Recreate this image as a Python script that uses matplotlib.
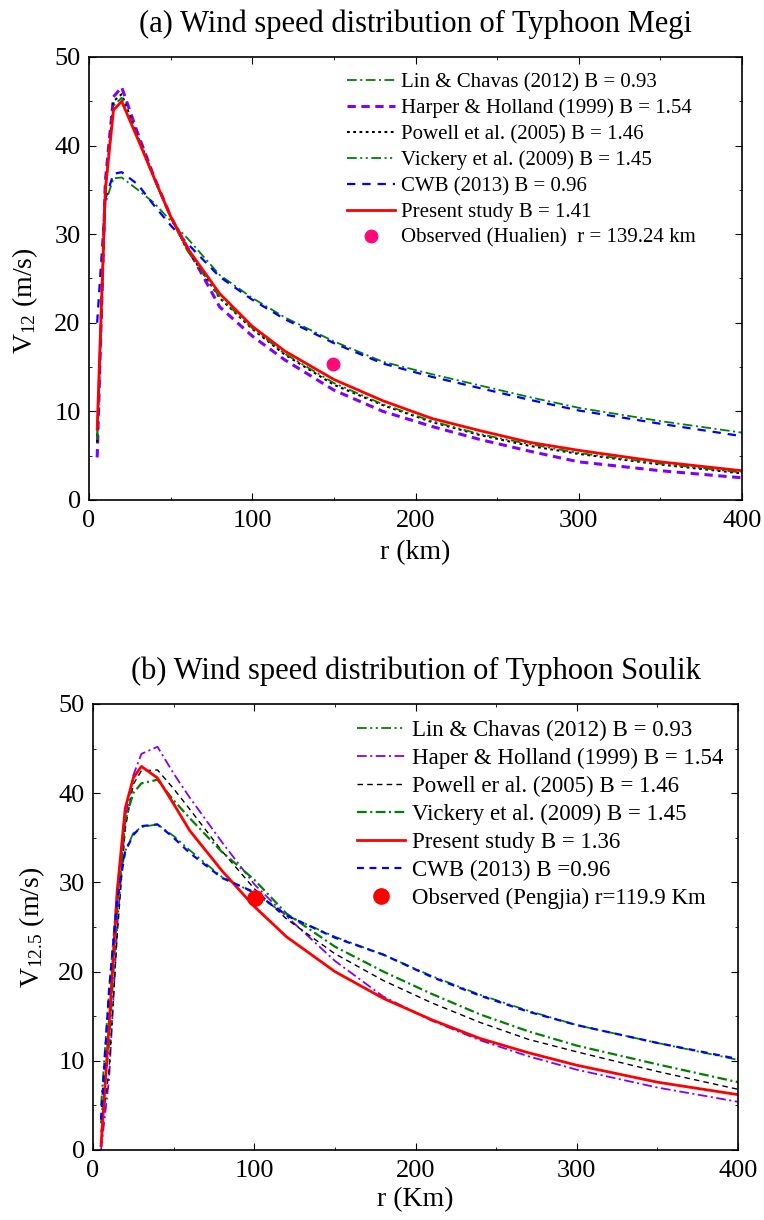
import numpy as np
import matplotlib
matplotlib.use("Agg")
import matplotlib.pyplot as plt
from matplotlib.ticker import MultipleLocator


# ---- panel (a): Typhoon Megi ----
R_A = [5, 10, 15, 20, 30, 40, 50, 60, 80, 100, 120, 150, 180, 210, 240, 270, 300, 350, 400]
LIN_A = [7.0, 33.5, 36.3, 36.4, 35.0, 33.5, 31.5, 29.6, 25.4, 22.8, 20.6, 17.9, 15.6, 14.2, 12.9, 11.6, 10.4, 8.9, 7.6]
HARPER_A = [4.8, 36.0, 45.5, 46.6, 41.3, 36.4, 32.0, 28.6, 21.8, 18.5, 15.8, 12.4, 10.0, 8.3, 6.8, 5.5, 4.3, 3.3, 2.5]
POWELL_A = [6.5, 35.0, 45.0, 45.8, 41.0, 36.3, 32.0, 28.3, 22.8, 19.3, 16.4, 13.0, 10.7, 8.8, 7.3, 6.1, 5.2, 4.0, 3.0]
VICKERY_A = [6.8, 34.5, 44.5, 45.4, 40.8, 36.2, 31.9, 28.2, 22.9, 19.4, 16.5, 13.2, 10.8, 8.9, 7.4, 6.3, 5.3, 4.1, 3.1]
CWB_A = [20.0, 34.0, 36.8, 37.0, 35.6, 33.2, 31.0, 29.0, 25.2, 22.6, 20.4, 17.7, 15.4, 13.9, 12.6, 11.3, 10.1, 8.6, 7.2]
PRESENT_A = [8.0, 35.0, 44.0, 45.0, 40.7, 36.3, 32.0, 28.5, 23.3, 19.6, 16.8, 13.6, 11.2, 9.2, 7.8, 6.5, 5.6, 4.3, 3.3]
OBS_A = (149.5, 15.3)

# ---- panel (b): Typhoon Soulik ----
R_B = [5, 10, 15, 20, 25, 30, 40, 50, 60, 80, 100, 120, 150, 180, 210, 240, 270, 300, 350, 400]
LIN_B = [5.0, 18.0, 29.0, 33.5, 35.5, 36.2, 36.5, 35.2, 33.6, 30.6, 28.8, 26.3, 23.9, 21.9, 19.5, 17.4, 15.6, 14.0, 12.0, 10.1]
HARPER_B = [0.0, 8.0, 25.0, 37.0, 42.0, 44.4, 45.2, 42.2, 39.5, 34.5, 29.8, 26.2, 21.2, 17.2, 14.5, 12.3, 10.5, 9.0, 7.0, 5.4]
POWELL_B = [2.0, 9.0, 24.0, 36.0, 41.0, 42.5, 42.6, 40.5, 38.2, 33.5, 29.3, 25.9, 22.0, 19.0, 16.5, 14.3, 12.4, 11.0, 8.8, 6.8]
VICKERY_B = [3.0, 12.0, 27.0, 37.0, 40.0, 41.1, 41.5, 39.2, 37.2, 33.4, 30.3, 26.5, 22.8, 20.0, 17.5, 15.2, 13.3, 11.7, 9.6, 7.6]
CWB_B = [3.4, 18.0, 28.0, 33.5, 35.3, 36.3, 36.5, 35.0, 33.3, 30.5, 28.9, 26.3, 23.8, 21.9, 19.4, 17.3, 15.5, 14.0, 12.0, 10.2]
PRESENT_B = [0.5, 14.0, 29.0, 38.3, 41.7, 43.0, 41.7, 38.8, 35.8, 31.3, 27.3, 23.9, 20.0, 17.0, 14.6, 12.5, 10.9, 9.5, 7.6, 6.2]
OBS_B = (100.5, 28.3)

GREEN = "#008000"
PURPLE = "#8000ff"
BLUE = "#0000ff"
RED = "#ff0000"


def configure_matplotlib():
    plt.rcParams.update({
        "font.family": "serif",
        "font.serif": ["Liberation Serif", "DejaVu Serif"],
        "mathtext.fontset": "custom",
        "mathtext.rm": "Liberation Serif",
        "mathtext.it": "Liberation Serif:italic",
        "axes.linewidth": 1.2,
        "xtick.direction": "in",
        "ytick.direction": "in",
        "xtick.top": True,
        "ytick.right": True,
        "xtick.major.size": 5,
        "ytick.major.size": 5,
        "xtick.minor.size": 2.5,
        "ytick.minor.size": 2.5,
        "xtick.labelsize": 19,
        "ytick.labelsize": 19,
        "lines.scale_dashes": False,
    })


def style_axes(ax):
    ax.set_xlim(0, 400)
    ax.set_ylim(0, 50)
    ax.xaxis.set_major_locator(MultipleLocator(100))
    ax.xaxis.set_minor_locator(MultipleLocator(50))
    ax.yaxis.set_major_locator(MultipleLocator(10))
    ax.yaxis.set_minor_locator(MultipleLocator(5))
    ax.tick_params(which="both", top=True, right=True)
    ax.tick_params(axis="x", pad=7)
    ax.tick_params(axis="y", pad=6)


def plot_megi(ax):
    ax.plot(R_A, LIN_A, color=GREEN, lw=1.3, dashes=(7, 2.5, 1.5, 2.5),
            label="Lin & Chavas (2012) B = 0.93")
    ax.plot(R_A, HARPER_A, color=PURPLE, lw=2.2, dashes=(6, 4),
            label="Harper & Holland (1999) B = 1.54")
    ax.plot(R_A, POWELL_A, color="black", lw=1.5, dashes=(2, 2.5),
            label="Powell et al. (2005) B = 1.46")
    ax.plot(R_A, VICKERY_A, color=GREEN, lw=1.3, dashes=(7, 2.5, 1.5, 2.5, 1.5, 2.5),
            label="Vickery et al. (2009) B = 1.45")
    ax.plot(R_A, CWB_A, color=BLUE, lw=1.6, dashes=(6, 5),
            label="CWB (2013) B = 0.96")
    ax.plot(R_A, PRESENT_A, color=RED, lw=2.0, label="Present study B = 1.41")
    ax.plot([OBS_A[0]], [OBS_A[1]], "o", color="#ff0a78", ms=9, ls="none",
            label="Observed (Hualien)  r = 139.24 km")

    style_axes(ax)
    ax.set_title("(a) Wind speed distribution of Typhoon Megi", fontsize=22, pad=18)
    ax.set_xlabel("r (km)", fontsize=20, labelpad=6)
    ax.set_ylabel(r"V$_{12}$ (m/s)", fontsize=20)
    ax.yaxis.set_label_coords(-0.075, 0.45)
    ax.legend(loc="upper left", bbox_to_anchor=(0.395, 0.964), frameon=False,
              fontsize=15, handlelength=2.3, handletextpad=0.3,
              labelspacing=0.3, borderpad=0, borderaxespad=0)


def plot_soulik(ax):
    ax.plot(R_B, LIN_B, color=GREEN, lw=1.3, dashes=(7, 2.5, 1.5, 2.5, 1.5, 2.5),
            label="Lin & Chavas (2012) B = 0.93")
    ax.plot(R_B, HARPER_B, color=PURPLE, lw=1.3, dashes=(7, 2.5, 1.5, 2.5),
            label="Haper & Holland (1999) B = 1.54")
    ax.plot(R_B, POWELL_B, color="black", lw=1.0, dashes=(4, 3),
            label="Powell er al. (2005) B = 1.46")
    ax.plot(R_B, VICKERY_B, color=GREEN, lw=1.6, dashes=(7, 2.5, 1.5, 2.5),
            label="Vickery et al. (2009) B = 1.45")
    ax.plot(R_B, PRESENT_B, color=RED, lw=2.0, label="Present study B = 1.36")
    ax.plot(R_B, CWB_B, color=BLUE, lw=1.6, dashes=(5, 4),
            label="CWB (2013) B =0.96")
    ax.plot([OBS_B[0]], [OBS_B[1]], "o", color=RED, ms=11, ls="none",
            label="Observed (Pengjia) r=119.9 Km")

    style_axes(ax)
    ax.set_title("(b) Wind speed distribution of Typhoon Soulik", fontsize=22, pad=18)
    ax.set_xlabel("r (Km)", fontsize=20, labelpad=4)
    ax.set_ylabel(r"V$_{12.5}$ (m/s)", fontsize=20, labelpad=8)
    ax.legend(loc="upper left", bbox_to_anchor=(0.409, 0.964), frameon=False,
              fontsize=16.5, handlelength=2.1, handletextpad=0.3,
              labelspacing=0.3, borderpad=0, borderaxespad=0)


def main():
    configure_matplotlib()
    fig = plt.figure(figsize=(7.64, 12.2), dpi=100)
    ax_a = fig.add_axes([0.1165, 0.5902, 0.8547, 0.3631])
    ax_b = fig.add_axes([0.1217, 0.0574, 0.8443, 0.3656])
    plot_megi(ax_a)
    plot_soulik(ax_b)
    fig.savefig("out.png", dpi=100)
    plt.close(fig)


if __name__ == "__main__":
    main()
